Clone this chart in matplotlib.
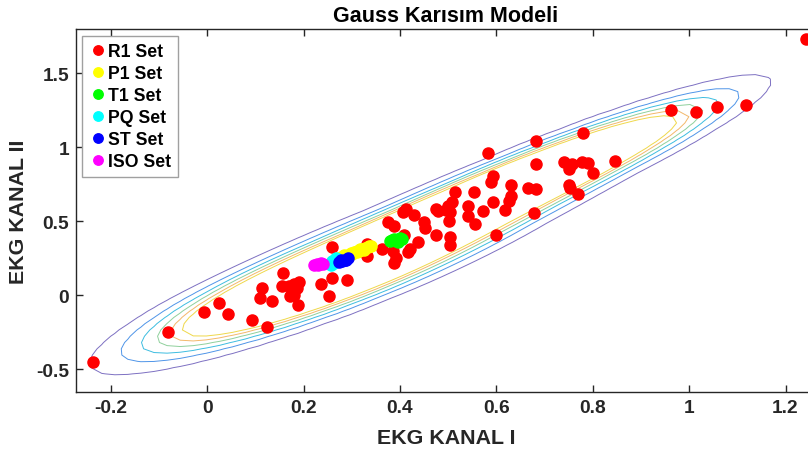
import numpy as np
import matplotlib
matplotlib.use('Agg')
from matplotlib import pyplot as plt

plt.rcParams['font.family'] = ['Liberation Sans', 'DejaVu Sans']
plt.rcParams['font.weight'] = 'bold'

# R1 set (EKG kanal I, EKG kanal II)
r1_x = [-0.236, -0.081, -0.007, 0.025, 0.044, 0.093, 0.125, 0.113, 0.109, 0.134,
        0.156, 0.170, 0.180, 0.191, 0.173, 0.180, 0.188, 0.157, 0.187,
        0.260, 0.332, 0.332, 0.362, 0.236, 0.260, 0.291, 0.253,
        0.376, 0.387, 0.406, 0.413, 0.430, 0.451, 0.453, 0.475, 0.474,
        0.385, 0.392, 0.388, 0.420, 0.437, 0.409, 0.416,
        0.583, 0.682, 0.683, 0.594, 0.590, 0.631, 0.665, 0.683, 0.515, 0.553,
        0.630, 0.626, 0.594, 0.508, 0.499, 0.495, 0.541, 0.479, 0.503, 0.572,
        0.619, 0.678, 0.541, 0.502, 0.555, 0.504, 0.503, 0.600,
        0.963, 1.015, 1.058, 1.118, 0.780, 0.741, 0.756, 0.750, 0.777, 0.791,
        0.846, 0.800, 0.751, 0.753, 0.769, 1.242]
r1_y = [-0.449, -0.250, -0.111, -0.050, -0.126, -0.165, -0.216, 0.049, -0.020, -0.036,
        0.061, 0.065, 0.076, 0.088, -0.007, 0.002, -0.068, 0.151, 0.047,
        0.328, 0.347, 0.268, 0.313, 0.076, 0.117, 0.101, -0.003,
        0.497, 0.470, 0.561, 0.583, 0.543, 0.493, 0.453, 0.583, 0.407,
        0.301, 0.250, 0.216, 0.313, 0.358, 0.407, 0.295,
        0.961, 1.045, 0.887, 0.808, 0.764, 0.747, 0.725, 0.718, 0.700, 0.696,
        0.669, 0.639, 0.628, 0.628, 0.605, 0.578, 0.605, 0.572, 0.565, 0.572,
        0.576, 0.556, 0.538, 0.502, 0.482, 0.392, 0.340, 0.409,
        1.252, 1.241, 1.274, 1.286, 1.095, 0.899, 0.887, 0.853, 0.899, 0.894,
        0.907, 0.826, 0.745, 0.723, 0.684, 1.732]

p1_x = [0.270, 0.278, 0.285, 0.292, 0.298, 0.300, 0.304, 0.310, 0.312, 0.316,
        0.318, 0.322, 0.325, 0.328, 0.334, 0.336, 0.340]
p1_y = [0.255, 0.262, 0.272, 0.275, 0.285, 0.278, 0.290, 0.298, 0.292, 0.302,
        0.310, 0.312, 0.306, 0.318, 0.326, 0.330, 0.335]

t1_x = [0.380, 0.386, 0.392, 0.398, 0.404, 0.388, 0.395, 0.401, 0.383]
t1_y = [0.365, 0.372, 0.368, 0.375, 0.378, 0.380, 0.360, 0.385, 0.376]

pq_x = [0.255, 0.260, 0.265, 0.268, 0.258, 0.263, 0.270]
pq_y = [0.215, 0.230, 0.245, 0.255, 0.205, 0.220, 0.238]

st_x = [0.274, 0.280, 0.286, 0.292, 0.278, 0.288]
st_y = [0.228, 0.235, 0.242, 0.250, 0.240, 0.236]

iso_x = [0.222, 0.228, 0.234, 0.240, 0.230, 0.236]
iso_y = [0.205, 0.212, 0.215, 0.210, 0.202, 0.220]

# Gauss karisim modeli: iki bilesen (ortalama, eksen boyunca / dik std, aci, agirlik)
gm_means = [(0.275, 0.165), (0.645, 0.745)]
gm_sd_along = [0.350, 0.370]
gm_sd_perp = [0.080, 0.064]
gm_angle = [54.5, 55.5]
gm_weights = [0.54, 0.46]
level_frac = [0.042, 0.084, 0.126, 0.168, 0.210, 0.252]
level_colors = ['#7d70c2', '#4f95e8', '#3dbde0', '#8fd09c', '#f3b86a', '#efd84a']


def gm_pdf(X, Y):
    Z = np.zeros_like(X)
    for (mx, my), sa, sp, ang, w in zip(gm_means, gm_sd_along, gm_sd_perp, gm_angle, gm_weights):
        th = np.deg2rad(ang)
        s = (X - mx) * np.cos(th) + (Y - my) * np.sin(th)
        t = -(X - mx) * np.sin(th) + (Y - my) * np.cos(th)
        Z += w / (2 * np.pi * sa * sp) * np.exp(-0.5 * ((s / sa) ** 2 + (t / sp) ** 2))
    return Z


# Kaba izgara (ezcontour benzeri)
gx = np.linspace(-0.3, 1.3, 60)
gy = np.linspace(-0.7, 1.8, 60)
X, Y = np.meshgrid(gx, gy)
Z = gm_pdf(X, Y)
levels = [Z.max() * f for f in level_frac]

fig = plt.figure(figsize=(8.08, 4.52), dpi=100)
ax = fig.add_axes([76 / 808, 1 - 393 / 452, 1 - 76 / 808 + 0.01, (393 - 30.3) / 452])

ax.contour(X, Y, Z, levels=levels, colors=level_colors, linewidths=0.7)

ms = 8
ax.plot(r1_x, r1_y, 'o', color='red', markersize=ms, label='R1 Set')
ax.plot(p1_x, p1_y, 'o', color='yellow', markersize=ms, label='P1 Set')
ax.plot(t1_x, t1_y, 'o', color='#00ff00', markersize=ms, label='T1 Set')
ax.plot(pq_x, pq_y, 'o', color='cyan', markersize=ms, label='PQ Set')
ax.plot(st_x, st_y, 'o', color='blue', markersize=ms, label='ST Set')
ax.plot(iso_x, iso_y, 'o', color='magenta', markersize=ms, label='ISO Set')

ax.set_xlim(-0.272, 1.2514 + 0.012)
ax.set_ylim(-0.653, 1.797)
ax.set_xticks([-0.2, 0, 0.2, 0.4, 0.6, 0.8, 1, 1.2])
ax.set_xticklabels(['-0.2', '0', '0.2', '0.4', '0.6', '0.8', '1', '1.2'])
ax.set_yticks([-0.5, 0, 0.5, 1, 1.5])
ax.set_yticklabels(['-0.5', '0', '0.5', '1', '1.5'])

for s in ['left', 'bottom', 'top']:
    ax.spines[s].set_color('#262626')
    ax.spines[s].set_linewidth(1.0)
ax.spines['right'].set_visible(False)
ax.tick_params(direction='in', length=5, width=1.0, color='#262626', top=True,
               labelsize=13.8, labelcolor='#262626', pad=5)

ax.set_title('Gauss Karısım Modeli', fontsize=15.5, fontweight='bold', pad=6)
ax.set_xlabel('EKG KANAL I', fontsize=15.4, fontweight='bold', color='#262626', labelpad=9)
ax.set_ylabel('EKG KANAL II', fontsize=15.4, fontweight='bold', color='#262626', labelpad=6)

leg = ax.legend(loc='upper left', bbox_to_anchor=(0.008, 0.981), borderaxespad=0,
                fontsize=12.7, handlelength=1.0, handletextpad=0.1, markerscale=0.85,
                labelspacing=0.28, borderpad=0.4, fancybox=False, framealpha=1)
leg.get_frame().set_edgecolor('#a0a0a0')
leg.get_frame().set_linewidth(1.0)

fig.savefig('out.png', dpi=100)
